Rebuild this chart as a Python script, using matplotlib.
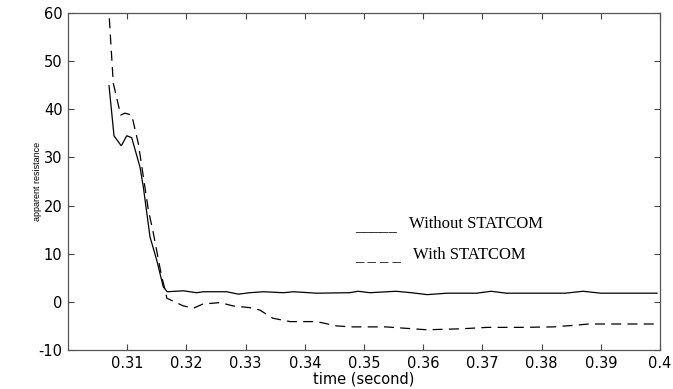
import matplotlib
matplotlib.use("Agg")
import matplotlib.pyplot as plt

# --- data ---
t_without = [0.30693, 0.30777, 0.30900, 0.30992, 0.31076, 0.31216, 0.31272, 0.31385,
             0.31498, 0.31610, 0.31677, 0.3195, 0.3217, 0.3229, 0.3268, 0.3288, 0.3307,
             0.3330, 0.3364, 0.3381, 0.3420, 0.3476, 0.3490, 0.3510, 0.3554, 0.3580,
             0.3607, 0.3640, 0.3690, 0.3715, 0.3740, 0.3840, 0.3870, 0.3900, 0.3995]
r_without = [44.9, 34.5, 32.4, 34.5, 34.1, 28.0, 23.9, 13.5,
             8.7, 3.1, 2.1, 2.3, 1.9, 2.1, 2.1, 1.6, 1.9,
             2.1, 1.9, 2.1, 1.8, 1.9, 2.2, 1.9, 2.2, 1.9,
             1.5, 1.8, 1.8, 2.2, 1.8, 1.8, 2.2, 1.8, 1.8]

t_with = [0.30698, 0.30765, 0.30890, 0.30963, 0.31076, 0.31188, 0.31357, 0.31441,
          0.31583, 0.31640, 0.31670, 0.3195, 0.3212, 0.3228, 0.3257, 0.3279, 0.3307,
          0.3324, 0.3346, 0.3375, 0.3420, 0.3454, 0.3480, 0.3537, 0.3606, 0.3663,
          0.3709, 0.3766, 0.3820, 0.3852, 0.3880, 0.3995]
r_with = [58.9, 45.4, 38.8, 39.2, 38.8, 32.9, 19.1, 14.3,
          5.2, 2.5, 0.75, -0.85, -1.3, -0.45, -0.15, -0.85, -1.2,
          -1.7, -3.4, -4.1, -4.1, -5.0, -5.2, -5.2, -5.8, -5.6,
          -5.3, -5.3, -5.2, -4.9, -4.6, -4.6]

x_ticks = [0.31, 0.32, 0.33, 0.34, 0.35, 0.36, 0.37, 0.38, 0.39, 0.40]
x_tick_labels = ["0.31", "0.32", "0.33", "0.34", "0.35", "0.36", "0.37", "0.38", "0.39", "0.4"]
y_ticks = [-10, 0, 10, 20, 30, 40, 50, 60]
y_tick_labels = ["-10", "0", "10", "20", "30", "40", "50", "60"]

W, H = 673, 389
fig = plt.figure(figsize=(W / 100, H / 100), dpi=100)
ax = fig.add_axes([68 / W, 1 - 350 / H, 592 / W, 337 / H])

ax.plot(t_without, r_without, color="black", lw=0.9, solid_joinstyle="miter")
ax.plot(t_with, r_with, color="black", lw=0.9, dashes=(8, 5))

ax.set_xlim(0.30, 0.40)
ax.set_ylim(-10, 60)
ax.set_xticks(x_ticks)
ax.set_xticklabels(x_tick_labels)
ax.set_yticks(y_ticks)
ax.set_yticklabels(y_tick_labels)

for s in ax.spines.values():
    s.set_color("#555555")
    s.set_linewidth(0.9)
ax.tick_params(direction="in", length=4, width=0.8, color="#444444",
               top=True, right=True, labelsize=10.5, pad=4, labelcolor="black")

ax.set_xlabel("time (second)", fontsize=10.5, labelpad=1)
ax.set_ylabel("apparent resistance", fontsize=6.5, family="Liberation Sans")
ax.yaxis.set_label_coords(-0.044, 0.5)

# legend drawn as text (underscore characters as in the original)
serif = "Liberation Serif"
fig.text(355 / W, 1 - 231 / H, "_____", family=serif, fontsize=12, va="baseline")
fig.text(409 / W, 1 - 228.5 / H, "Without STATCOM", family=serif, fontsize=12, va="baseline")
fig.text(355 / W, 1 - 260 / H, "_ _ _ _", family=serif, fontsize=12, va="baseline")
fig.text(413 / W, 1 - 259 / H, "With STATCOM", family=serif, fontsize=12, va="baseline")

fig.savefig("out.png", dpi=100)
